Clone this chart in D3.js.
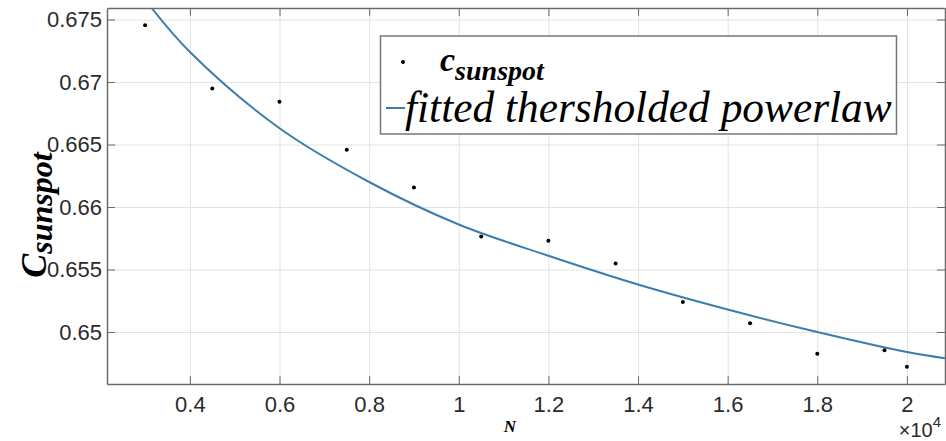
<!DOCTYPE html>
<html>
<head>
<meta charset="utf-8">
<script src="https://cdn.jsdelivr.net/npm/d3@7"></script>
<style>
  body { margin: 0; background: #fff; }
  svg { display: block; }
  .tick text { font-family: "Liberation Sans", Arial, sans-serif; font-size: 22px; fill: #2b2b2b; }
</style>
</head>
<body>
<div id="chart"></div>
<script>
// measured points
const nValues = [3000, 4500, 6000, 7500, 9000, 10500, 12000, 13500, 15000, 16500, 18000, 19500, 20000];
const cValues = [0.67454, 0.66949, 0.66842, 0.66458, 0.66156, 0.65765, 0.6573, 0.65548, 0.6524, 0.6507, 0.64826, 0.64854, 0.64722];

// fitted thresholded powerlaw
const fitN = [3150, 4000, 6000, 8000, 10000, 12000, 14000, 16000, 18000, 20000, 20850];
const fitC = [0.6759, 0.6724, 0.6663, 0.6620, 0.6586, 0.6561, 0.6538, 0.6518, 0.6500, 0.6484, 0.6479];

// tick values / labels
const xTicks = [4000, 6000, 8000, 10000, 12000, 14000, 16000, 18000, 20000];
const xTickLabels = ["0.4", "0.6", "0.8", "1", "1.2", "1.4", "1.6", "1.8", "2"];
const yTicks = [0.65, 0.655, 0.66, 0.665, 0.67, 0.675];
const yTickLabels = ["0.65", "0.655", "0.66", "0.665", "0.67", "0.675"];

const w = 946;
const h = 441;
const pLeft = 107, pRight = 945, pTop = 8, pBottom = 384;

const xScale = d3.scaleLinear().domain([2150, 20850]).range([pLeft, pRight]);
const yScale = d3.scaleLinear().domain([0.64584, 0.67592]).range([pBottom, pTop]);

const svg = d3.select("#chart").append("svg")
  .attr("width", w)
  .attr("height", h);

// grid
svg.append("g")
  .attr("transform", `translate(0, ${pBottom})`)
  .call(d3.axisBottom(xScale).tickValues(xTicks).tickSize(-(pBottom - pTop)).tickFormat(""))
  .call(g => g.select(".domain").remove())
  .call(g => g.selectAll("line").attr("stroke", "#e3e3e3").attr("stroke-width", 1));

svg.append("g")
  .attr("transform", `translate(${pLeft}, 0)`)
  .call(d3.axisLeft(yScale).tickValues(yTicks).tickSize(-(pRight - pLeft)).tickFormat(""))
  .call(g => g.select(".domain").remove())
  .call(g => g.selectAll("line").attr("stroke", "#e3e3e3").attr("stroke-width", 1));

const axisColor = "#6b6b6b";

// X axis bottom
svg.append("g")
  .attr("transform", `translate(0, ${pBottom})`)
  .call(d3.axisBottom(xScale).tickValues(xTicks).tickSizeInner(-8).tickSizeOuter(0)
    .tickPadding(12).tickFormat((d, i) => xTickLabels[i]))
  .call(g => g.select(".domain").attr("stroke", axisColor).attr("stroke-width", 1.5))
  .call(g => g.selectAll("line").attr("stroke", axisColor));

// top
svg.append("g")
  .attr("transform", `translate(0, ${pTop})`)
  .call(d3.axisTop(xScale).tickValues(xTicks).tickSizeInner(-8).tickSizeOuter(0).tickFormat(""))
  .call(g => g.select(".domain").attr("stroke", axisColor).attr("stroke-width", 1.5))
  .call(g => g.selectAll("line").attr("stroke", axisColor));

// Y axis left
svg.append("g")
  .attr("transform", `translate(${pLeft}, 0)`)
  .call(d3.axisLeft(yScale).tickValues(yTicks).tickSizeInner(-8).tickSizeOuter(0)
    .tickPadding(5).tickFormat((d, i) => yTickLabels[i]))
  .call(g => g.select(".domain").attr("stroke", axisColor).attr("stroke-width", 1.5))
  .call(g => g.selectAll("line").attr("stroke", axisColor));

// right
svg.append("g")
  .attr("transform", `translate(${pRight}, 0)`)
  .call(d3.axisRight(yScale).tickValues(yTicks).tickSizeInner(-8).tickSizeOuter(0).tickFormat(""))
  .call(g => g.select(".domain").attr("stroke", axisColor).attr("stroke-width", 1.5))
  .call(g => g.selectAll("line").attr("stroke", axisColor));

// clip
svg.append("clipPath").attr("id", "plot")
  .append("rect")
  .attr("x", pLeft).attr("y", pTop)
  .attr("width", pRight - pLeft).attr("height", pBottom - pTop);

const line = d3.line()
  .x((d, i) => xScale(fitN[i]))
  .y(d => yScale(d))
  .curve(d3.curveCatmullRom.alpha(0.5));

svg.append("path")
  .datum(fitC)
  .attr("clip-path", "url(#plot)")
  .attr("fill", "none")
  .attr("stroke", "#3a7eae")
  .attr("stroke-width", 2)
  .attr("d", line);

svg.selectAll("circle.pt")
  .data(cValues)
  .enter()
  .append("circle")
    .attr("class", "pt")
    .attr("cx", (d, i) => xScale(nValues[i]))
    .attr("cy", d => yScale(d))
    .attr("r", 2)
    .attr("fill", "#000");

// legend
const lg = svg.append("g");
lg.append("rect")
  .attr("x", 380.5).attr("y", 36)
  .attr("width", 516).attr("height", 98)
  .attr("fill", "#fff")
  .attr("stroke", "#777")
  .attr("stroke-width", 1.5);

lg.append("circle")
  .attr("cx", 403).attr("cy", 62).attr("r", 2).attr("fill", "#000");

const lc = lg.append("text")
  .attr("x", 440).attr("y", 71)
  .attr("font-family", "Liberation Serif, Times New Roman, serif")
  .attr("font-style", "italic")
  .attr("font-weight", "bold")
  .attr("fill", "#000");
lc.append("tspan").attr("font-size", 34).text("c");
lc.append("tspan").attr("font-size", 28).attr("dy", 9).text("sunspot");

lg.append("line")
  .attr("x1", 386).attr("x2", 405)
  .attr("y1", 108).attr("y2", 108)
  .attr("stroke", "#3a7eae").attr("stroke-width", 2);

const lt = lg.append("text")
  .attr("x", 405).attr("y", 122)
  .attr("font-family", "Liberation Serif, Times New Roman, serif")
  .attr("font-style", "italic")
  .attr("font-size", 40)
  .attr("fill", "#000")
  .text("fitted thersholded powerlaw");
// fit the text into the box width seen in the picture
const len = lt.node().getComputedTextLength();
lt.attr("font-size", 40 * 487 / len);

// axis labels
svg.append("text")
  .attr("x", 510).attr("y", 432)
  .attr("text-anchor", "middle")
  .attr("font-family", "Liberation Serif, Times New Roman, serif")
  .attr("font-style", "italic")
  .attr("font-weight", "bold")
  .attr("font-size", 17)
  .text("N");

const yl = svg.append("text")
  .attr("transform", "translate(46, 215) rotate(-90)")
  .attr("text-anchor", "middle")
  .attr("font-family", "Liberation Serif, Times New Roman, serif")
  .attr("font-style", "italic")
  .attr("font-weight", "bold")
  .attr("fill", "#000");
yl.append("tspan").attr("font-size", 36).text("C");
yl.append("tspan").attr("font-size", 32).attr("dy", 6).text("sunspot");

// exponent
const ex = svg.append("text")
  .attr("x", 941).attr("y", 437)
  .attr("text-anchor", "end")
  .attr("font-family", "Liberation Sans, Arial, sans-serif")
  .attr("font-size", 20)
  .attr("fill", "#2b2b2b");
ex.append("tspan").text("\u00d710");
ex.append("tspan").attr("font-size", 15).attr("dy", -10).text("4");
</script>
</body>
</html>
